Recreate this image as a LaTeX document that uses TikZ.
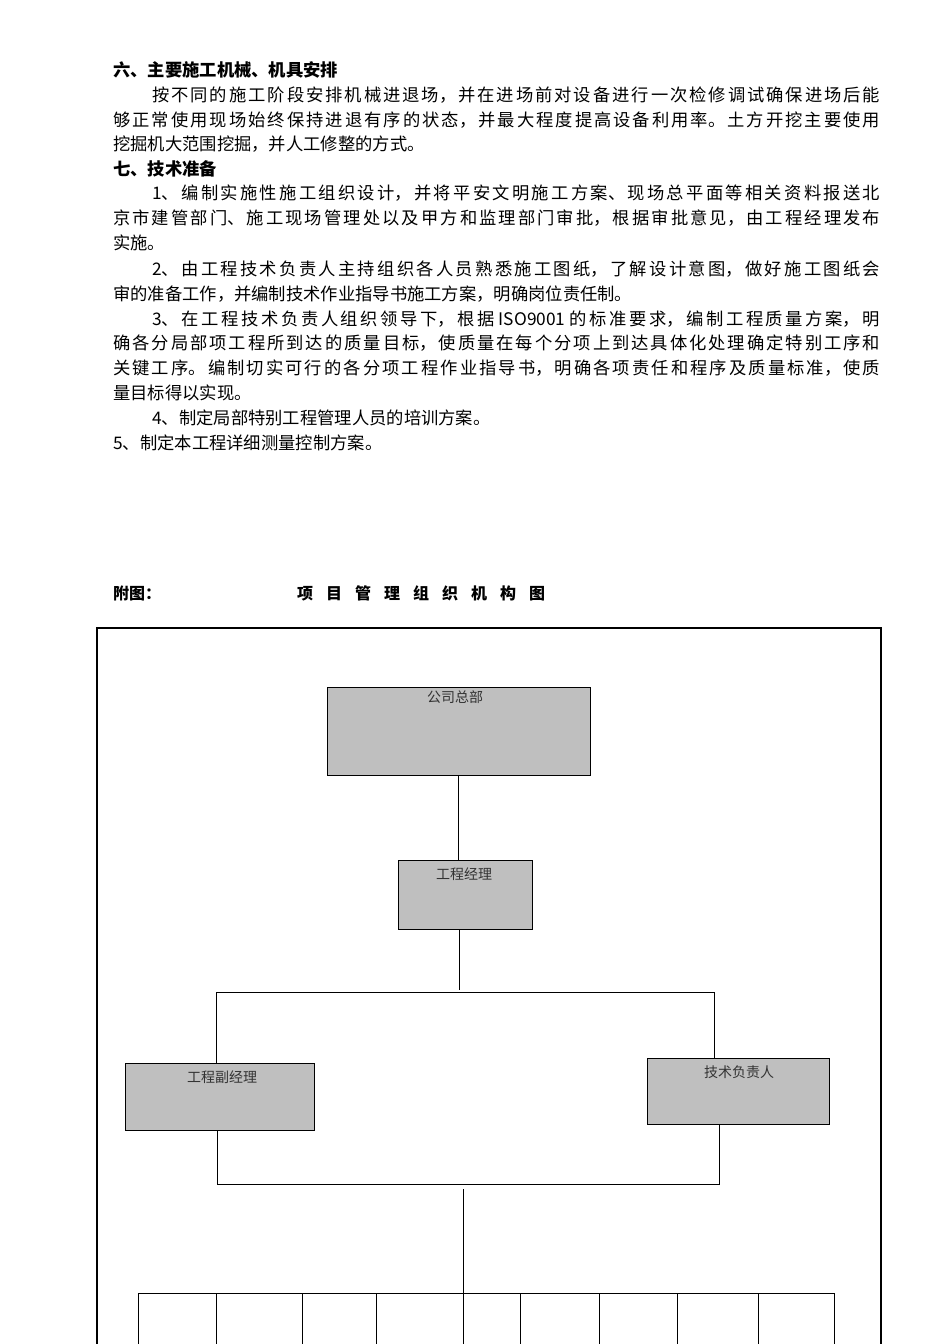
\documentclass[tikz,border=0pt]{standalone}
\usepackage{fontspec}
\setmainfont{Noto Sans CJK SC}
\XeTeXlinebreaklocale "zh"
\XeTeXlinebreakskip=0pt plus 6pt
\begin{document}
\begin{tikzpicture}[x=1pt,y=-1pt,
  ln/.style={anchor=base west,inner sep=0pt,font=\fontsize{17.3}{17}\selectfont},
  box/.style={draw=black,fill=black!25,line width=0.8pt},
  lbl/.style={font=\fontsize{14}{14}\selectfont,text=black!80},
  wire/.style={line width=0.7pt}]
\useasboundingbox (0,0) rectangle (950,1344);
\fill[white] (0,0) rectangle (950,1344);
\newcommand{\fl}[3]{\node[ln] at (#1,#2) {\parbox[b]{\dimexpr880pt-#1pt\relax}{\parindent=0pt\parfillskip=0pt\emergencystretch=50pt\hbadness=10000 #3}};}
\node[ln,font=\fontsize{17.3}{17}\selectfont\bfseries] at (113,76) {六、主要施工机械、机具安排};
\fl{152}{101}{按不同的施工阶段安排机械进退场，并在进场前对设备进行一次检修调试确保进场后能}
\fl{113}{126}{够正常使用现场始终保持进退有序的状态，并最大程度提高设备利用率。土方开挖主要使用}
\node[ln] at (113,150) {挖掘机大范围挖掘，并人工修整的方式。};
\node[ln,font=\fontsize{17.3}{17}\selectfont\bfseries] at (113,175) {七、技术准备};
\fl{152}{199}{1、编制实施性施工组织设计，并将平安文明施工方案、现场总平面等相关资料报送北}
\fl{113}{224}{京市建管部门、施工现场管理处以及甲方和监理部门审批，根据审批意见，由工程经理发布}
\node[ln] at (113,249) {实施。};
\fl{152}{275}{2、由工程技术负责人主持组织各人员熟悉施工图纸，了解设计意图，做好施工图纸会}
\node[ln] at (113,300) {审的准备工作，并编制技术作业指导书施工方案，明确岗位责任制。};
\fl{152}{325}{3、在工程技术负责人组织领导下，根据\kern4pt ISO9001\kern4pt 的标准要求，编制工程质量方案，明}
\fl{113}{349}{确各分局部项工程所到达的质量目标，使质量在每个分项上到达具体化处理确定特别工序和}
\fl{113}{374}{关键工序。编制切实可行的各分项工程作业指导书，明确各项责任和程序及质量标准，使质}
\node[ln] at (113,399) {量目标得以实现。};
\node[ln] at (152,424) {4、制定局部特别工程管理人员的培训方案。};
\node[ln] at (113,449) {5、制定本工程详细测量控制方案。};
\node[ln,font=\fontsize{16}{16}\selectfont\bfseries] at (113,599) {附图：};
\node[ln,font=\fontsize{16}{16}\selectfont\bfseries] at (297,599) {\makebox[248pt][s]{项\hfill 目\hfill 管\hfill 理\hfill 组\hfill 织\hfill 机\hfill 构\hfill 图}};
% frame
\draw[line width=2.5pt] (97,1360) -- (97,628) -- (881,628) -- (881,1360);
% boxes
\draw[box] (327,687) rectangle (590,775); \coordinate (A) at (458,775);
\node[lbl] (At) at (455,697) {公司总部};
\draw[box] (398,860) rectangle (532,929);
\node[lbl] (Bt) at (464,874) {工程经理};
\draw[box] (125,1063) rectangle (314,1130);
\node[lbl] (Ct) at (222,1077) {工程副经理};
\draw[box] (647,1058) rectangle (829,1124);
\node[lbl] (Dt) at (739,1072) {技术负责人};
% wires
\coordinate (B1) at (458,860); \coordinate (B2) at (459,929); \coordinate (B3) at (459,990);
\draw[wire] (A) -- (B1); \draw[wire] (B2) -- (B3);
\draw[wire] (216,1063) -- (216,992) -- (714,992) -- (714,1058);
\draw[wire] (217,1130) -- (217,1184) -- (719,1184) -- (719,1124);
\draw[wire] (463,1189) -- (463,1350);
\draw[wire] (138,1350) -- (138,1293) -- (834,1293) -- (834,1350);
\foreach \x in {216,302,376,520,599,677,758} \draw[wire] (\x,1293) -- (\x,1350);
\end{tikzpicture}
\end{document}
